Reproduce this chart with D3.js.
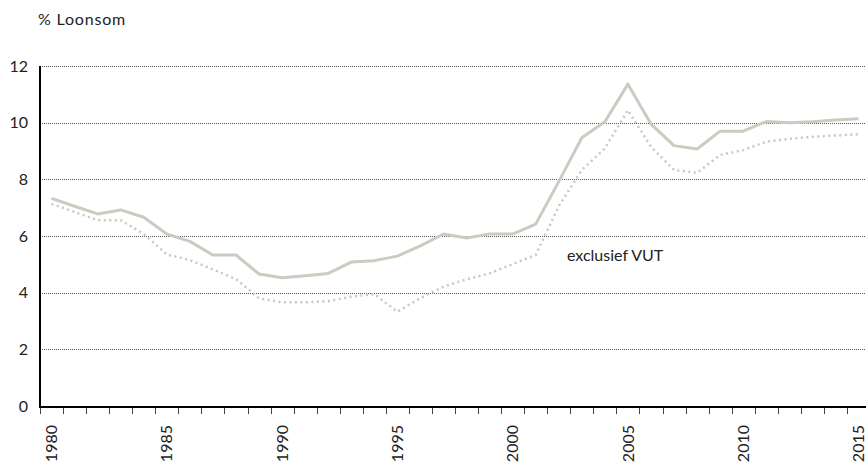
<!DOCTYPE html>
<html lang="nl">
  <head>
    <meta charset="UTF-8" />
    <title>Loonsom</title>
    <script src="https://d3js.org/d3.v7.min.js"></script>
    <style>
      body {
        margin: 0;
        background: #fff;
        font-family: Lato, "Open Sans", sans-serif;
      }
    </style>
  </head>
  <body>
    <div id="chart"></div>
    <script>
      const years = d3.range(1980, 2016);
      const inclVUT = [
        7.33, 7.05, 6.78, 6.92, 6.66, 6.07, 5.81, 5.33, 5.33, 4.66,
        4.53, 4.6, 4.68, 5.08, 5.13, 5.29, 5.65, 6.07, 5.93, 6.07,
        6.07, 6.42, 7.92, 9.47, 10.03, 11.36, 9.95, 9.19, 9.07, 9.7,
        9.7, 10.04, 10.0, 10.03, 10.09, 10.14
      ];
      const exclVUT = [
        7.13, 6.85, 6.56, 6.56, 6.07, 5.35, 5.15, 4.82, 4.48, 3.8,
        3.66, 3.66, 3.7, 3.86, 3.95, 3.33, 3.81, 4.21, 4.47, 4.68,
        5.01, 5.33, 7.05, 8.33, 9.09, 10.44, 9.15, 8.33, 8.23, 8.86,
        9.03, 9.33, 9.43, 9.5, 9.55, 9.59
      ];
      const yTicks = [0, 2, 4, 6, 8, 10, 12];
      const labelYears = [1980, 1985, 1990, 1995, 2000, 2005, 2010, 2015];

      const width = 866;
      const height = 463;

      const svg = d3
        .select("#chart")
        .append("svg")
        .attr("width", width)
        .attr("height", height);

      const x = d3.scaleBand().domain(years).range([40, 870]).padding(0);
      const y = d3.scaleLinear().domain([0, 12]).range([406, 66]);

      // titel
      svg
        .append("text")
        .attr("x", 38)
        .attr("y", 25)
        .attr("font-size", 16)
        .attr("letter-spacing", 0.8)
        .attr("fill", "#222")
        .text("% Loonsom");

      // gridlijnen
      svg
        .append("g")
        .selectAll("line")
        .data(yTicks.filter((d) => d > 0))
        .join("line")
        .attr("x1", 40)
        .attr("x2", width)
        .attr("y1", (d) => Math.round(y(d)) + 0.5)
        .attr("y2", (d) => Math.round(y(d)) + 0.5)
        .attr("stroke", "#555")
        .attr("stroke-width", 1)
        .attr("stroke-dasharray", "1,1");

      // y labels
      svg
        .append("g")
        .selectAll("text")
        .data(yTicks)
        .join("text")
        .attr("x", 28)
        .attr("y", (d) => y(d))
        .attr("dy", "0.35em")
        .attr("text-anchor", "end")
        .attr("font-size", 16)
        .attr("fill", "#222")
        .text((d) => d);

      // x ticks op elke jaargrens
      svg
        .append("g")
        .selectAll("line")
        .data(years)
        .join("line")
        .attr("x1", (d) => Math.round(x(d)) + 0.5)
        .attr("x2", (d) => Math.round(x(d)) + 0.5)
        .attr("y1", 407)
        .attr("y2", 414)
        .attr("stroke", "#444")
        .attr("stroke-width", 1);

      // x labels
      svg
        .append("g")
        .selectAll("text")
        .data(labelYears)
        .join("text")
        .attr(
          "transform",
          (d) => `translate(${x(d) + x.bandwidth() / 2},425) rotate(-90)`
        )
        .attr("dy", "0.35em")
        .attr("text-anchor", "end")
        .attr("font-size", 16)
        .attr("fill", "#222")
        .text((d) => d);

      const line = d3
        .line()
        .x((d, i) => x(years[i]) + x.bandwidth() / 2)
        .y((d) => y(d));

      svg
        .append("path")
        .datum(exclVUT)
        .attr("d", line)
        .attr("fill", "none")
        .attr("stroke", "#c6c8c3")
        .attr("stroke-width", 2.5)
        .attr("stroke-dasharray", "2,3.5");

      svg
        .append("path")
        .datum(inclVUT)
        .attr("d", line)
        .attr("fill", "none")
        .attr("stroke", "#c8cdc2")
        .attr("stroke-width", 3)
        .attr("stroke-linejoin", "round");

      svg
        .append("text")
        .attr("x", 567)
        .attr("y", 261)
        .attr("font-size", 16)
        .attr("fill", "#222")
        .text("exclusief VUT");

      // assen
      svg
        .append("line")
        .attr("x1", 40)
        .attr("x2", 40)
        .attr("y1", 66)
        .attr("y2", 408)
        .attr("stroke", "#000")
        .attr("stroke-width", 2);

      svg
        .append("line")
        .attr("x1", 39)
        .attr("x2", width)
        .attr("y1", 407)
        .attr("y2", 407)
        .attr("stroke", "#000")
        .attr("stroke-width", 2);
    </script>
  </body>
</html>
